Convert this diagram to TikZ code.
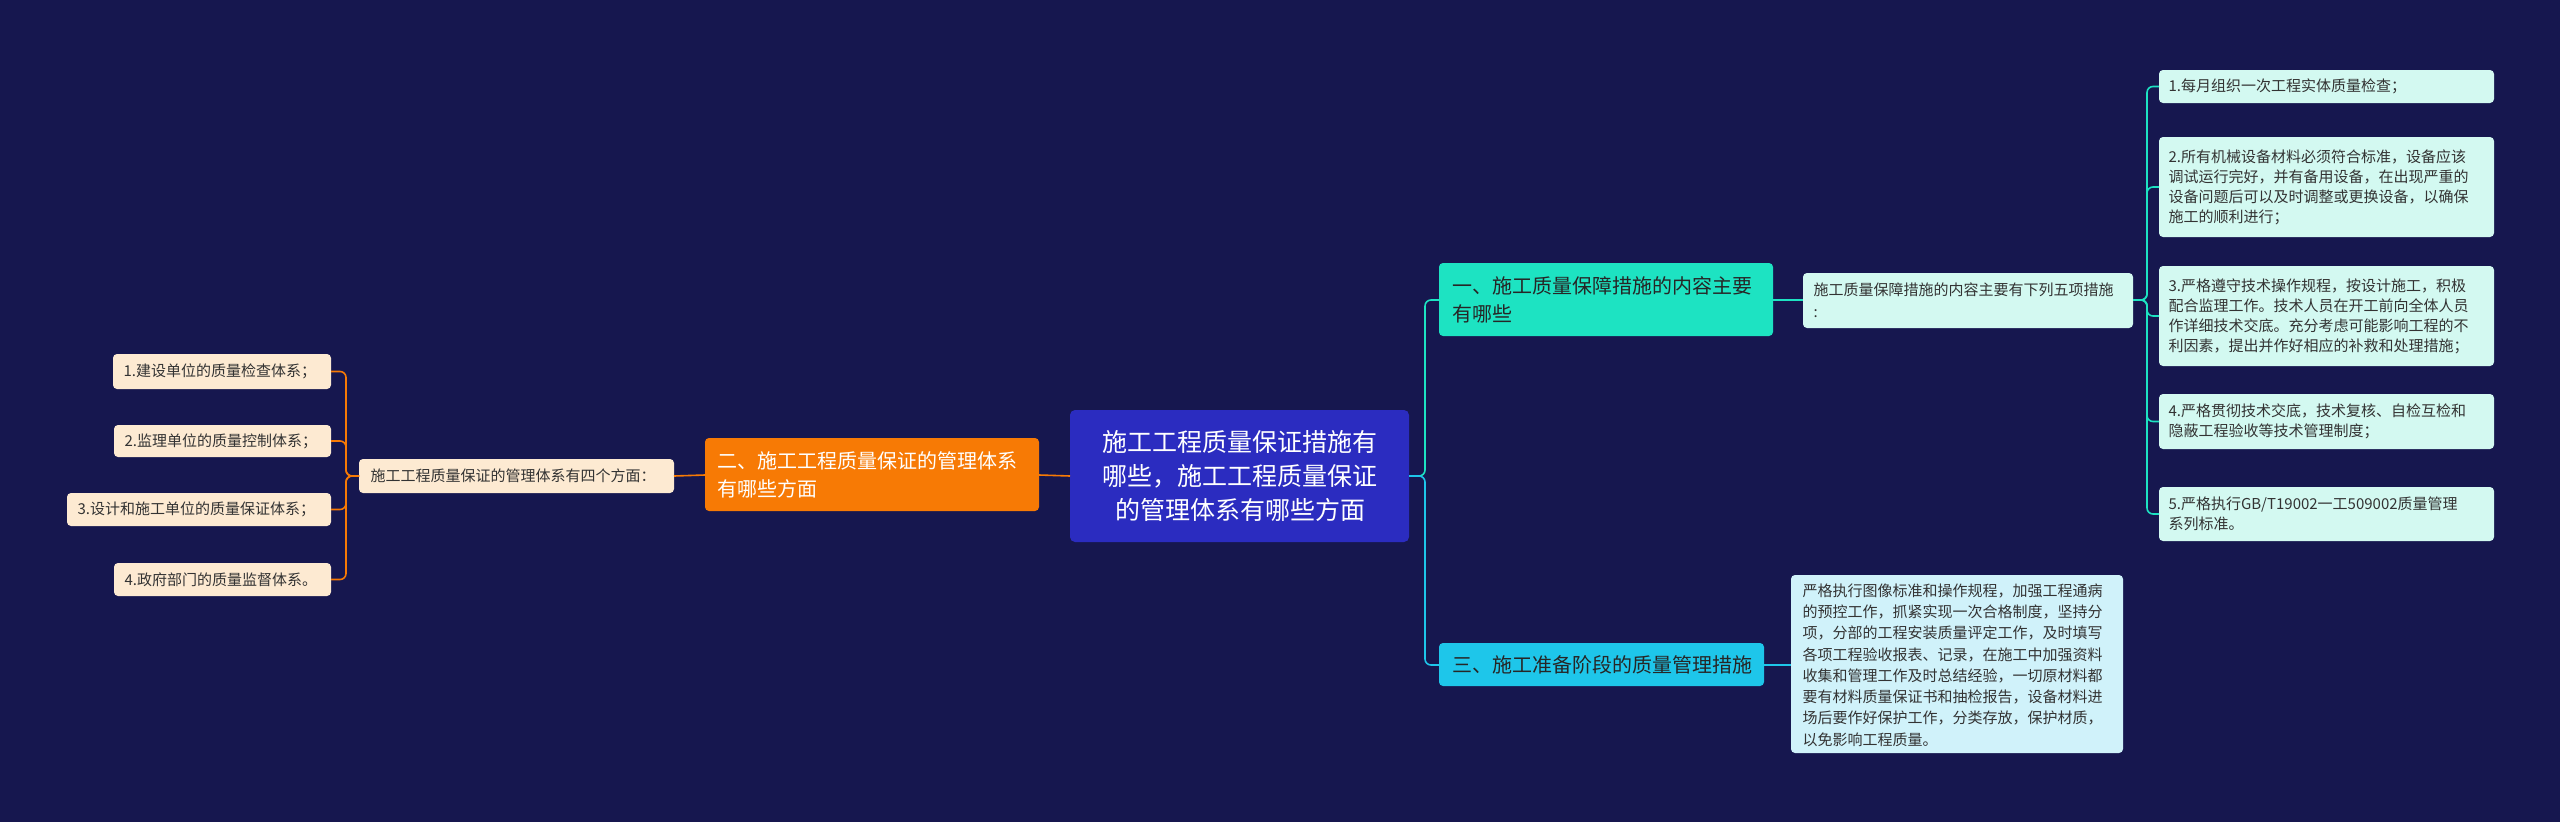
\documentclass[tikz,border=0pt]{standalone}
\usepackage{fontspec}
\setmainfont{Noto Sans CJK SC}
\begin{document}
\begin{tikzpicture}[x=1pt,y=-1pt,
 box/.style={rounded corners=4pt,align=left,inner sep=0pt,anchor=north west},
 leafR/.style={box,fill=rbox,text=black!80,font=\fontsize{15}{22}\selectfont},
 leafL/.style={box,fill=lbox,text=black!80,font=\fontsize{15}{22}\selectfont},
 conR/.style={draw=tealc,line width=1.6pt,rounded corners=6pt},
 conL/.style={draw=orangec,line width=1.6pt,rounded corners=6pt},
 conB/.style={draw=cyanc,line width=1.6pt,rounded corners=6pt}]
\definecolor{bg}{HTML}{16174F}
\definecolor{centerc}{HTML}{2B2CC0}
\definecolor{tealc}{HTML}{1DE3C2}
\definecolor{cyanc}{HTML}{1EC6EA}
\definecolor{orangec}{HTML}{F77A05}
\definecolor{rbox}{HTML}{D3F9F1}
\definecolor{cbox}{HTML}{D0F2FA}
\definecolor{lbox}{HTML}{FDEAD2}
\fill[bg] (0,0) rectangle (2560,822);
\useasboundingbox (0,0) rectangle (2560,822);
% center
\fill[centerc,rounded corners=5pt] (1070,410) rectangle (1409,542);
\node[text=white,align=center,font=\fontsize{25}{34}\selectfont] (c) at (1240,476) {施工工程质量保证措施有\\哪些，施工工程质量保证\\的管理体系有哪些方面};
\coordinate (cE) at (1409,476); \coordinate (cW) at (1070,476);
% branch 1
\fill[tealc,rounded corners=4pt] (1439,263) rectangle (1773,336);
\node[anchor=west,align=left,text=black!85,font=\fontsize{20}{28}\selectfont] (b1) at (1449,300) {一、施工质量保障措施的内容主要\\有哪些};
\coordinate (b1W) at (1439,300); \coordinate (b1E) at (1773,300);
% branch 3
\fill[cyanc,rounded corners=4pt] (1439,643) rectangle (1764,686);
\node[anchor=west,text=black!85,font=\fontsize{20}{28}\selectfont] (b3) at (1449,665) {三、施工准备阶段的质量管理措施};
\coordinate (b3W) at (1439,665); \coordinate (b3E) at (1764,665);
% branch 2
\fill[orangec,rounded corners=4pt] (705,438) rectangle (1039,511);
\node[anchor=west,align=left,text=white,font=\fontsize{20}{28}\selectfont] (b2) at (714,475) {二、施工工程质量保证的管理体系\\有哪些方面};
\coordinate (b2W) at (705,475); \coordinate (b2E) at (1039,475);
% sub1
\fill[rbox,rounded corners=4pt] (1803,273) rectangle (2133,328);
\node[anchor=west,align=left,text=black!80,font=\fontsize{15}{22}\selectfont] (s1) at (1810,300) {施工质量保障措施的内容主要有下列五项措施\\:};
\coordinate (s1W) at (1803,300); \coordinate (s1E) at (2133,300);
% sub3
\fill[cbox,rounded corners=4pt] (1791,575) rectangle (2123,753);
\node[anchor=north west,align=left,text=black!80,font=\fontsize{15}{21.3}\selectfont] (s3) at (1799,580) {严格执行图像标准和操作规程，加强工程通病\\的预控工作，抓紧实现一次合格制度，坚持分\\项，分部的工程安装质量评定工作，及时填写\\各项工程验收报表、记录，在施工中加强资料\\收集和管理工作及时总结经验，一切原材料都\\要有材料质量保证书和抽检报告，设备材料进\\场后要作好保护工作，分类存放，保护材质，\\以免影响工程质量。};
\coordinate (s3W) at (1791,665);
% sub2
\fill[lbox,rounded corners=4pt] (359,459) rectangle (674,493);
\node[anchor=west,text=black!80,font=\fontsize{15}{22}\selectfont] (s2) at (367,476) {施工工程质量保证的管理体系有四个方面：};
\coordinate (s2W) at (359,476); \coordinate (s2E) at (674,476);
% right leaves
\foreach \n/\ya/\yb/\t in {r1/70/103/{1.每月组织一次工程实体质量检查；},
 r2/137/237/{2.所有机械设备材料必须符合标准，设备应该\\调试运行完好，并有备用设备，在出现严重的\\设备问题后可以及时调整或更换设备，以确保\\施工的顺利进行；},
 r3/266/366/{3.严格遵守技术操作规程，按设计施工，积极\\配合监理工作。技术人员在开工前向全体人员\\作详细技术交底。充分考虑可能影响工程的不\\利因素，提出并作好相应的补救和处理措施；},
 r4/394/449/{4.严格贯彻技术交底，技术复核、自检互检和\\隐蔽工程验收等技术管理制度；},
 r5/487/541/{5.严格执行GB/T19002一工509002质量管理\\系列标准。}}{
 \fill[rbox,rounded corners=4pt] (2159,\ya) rectangle (2494,\yb);
 \node[anchor=west,align=left,text=black!80,font=\fontsize{15}{20}\selectfont] (\n) at (2165,{(\ya+\yb)/2}) {\t};
 \coordinate (\n W) at (2159,{(\ya+\yb)/2});
 \draw[conR] (s1E) -- (2147,300) |- (\n W);
}
% left leaves
\foreach \n/\xa/\ya/\yb/\t in {l1/113/354/389/{1.建设单位的质量检查体系；},
 l2/114/425/457/{2.监理单位的质量控制体系；},
 l3/67/493/526/{3.设计和施工单位的质量保证体系；},
 l4/114/563/596/{4.政府部门的质量监督体系。}}{
 \fill[lbox,rounded corners=4pt] (\xa,\ya) rectangle (331,\yb);
 \node[anchor=west,text=black!80,font=\fontsize{15}{20}\selectfont] (\n) at ({\xa+7},{(\ya+\yb)/2}) {\t};
 \coordinate (\n E) at (331,{(\ya+\yb)/2});
 \draw[conL] (s2W) -- (346,476) |- (\n E);
}
% main connectors
\draw[conR] (cE) -- (1425,476) |- (b1W);
\draw[conB] (cE) -- (1425,476) |- (b3W);
\draw[conR] (b1E) -- (s1W);
\draw[conB] (b3E) -- (s3W);
\draw[conL] (cW) -- (b2E);
\draw[conL] (b2W) -- (s2E);
\end{tikzpicture}
\end{document}
